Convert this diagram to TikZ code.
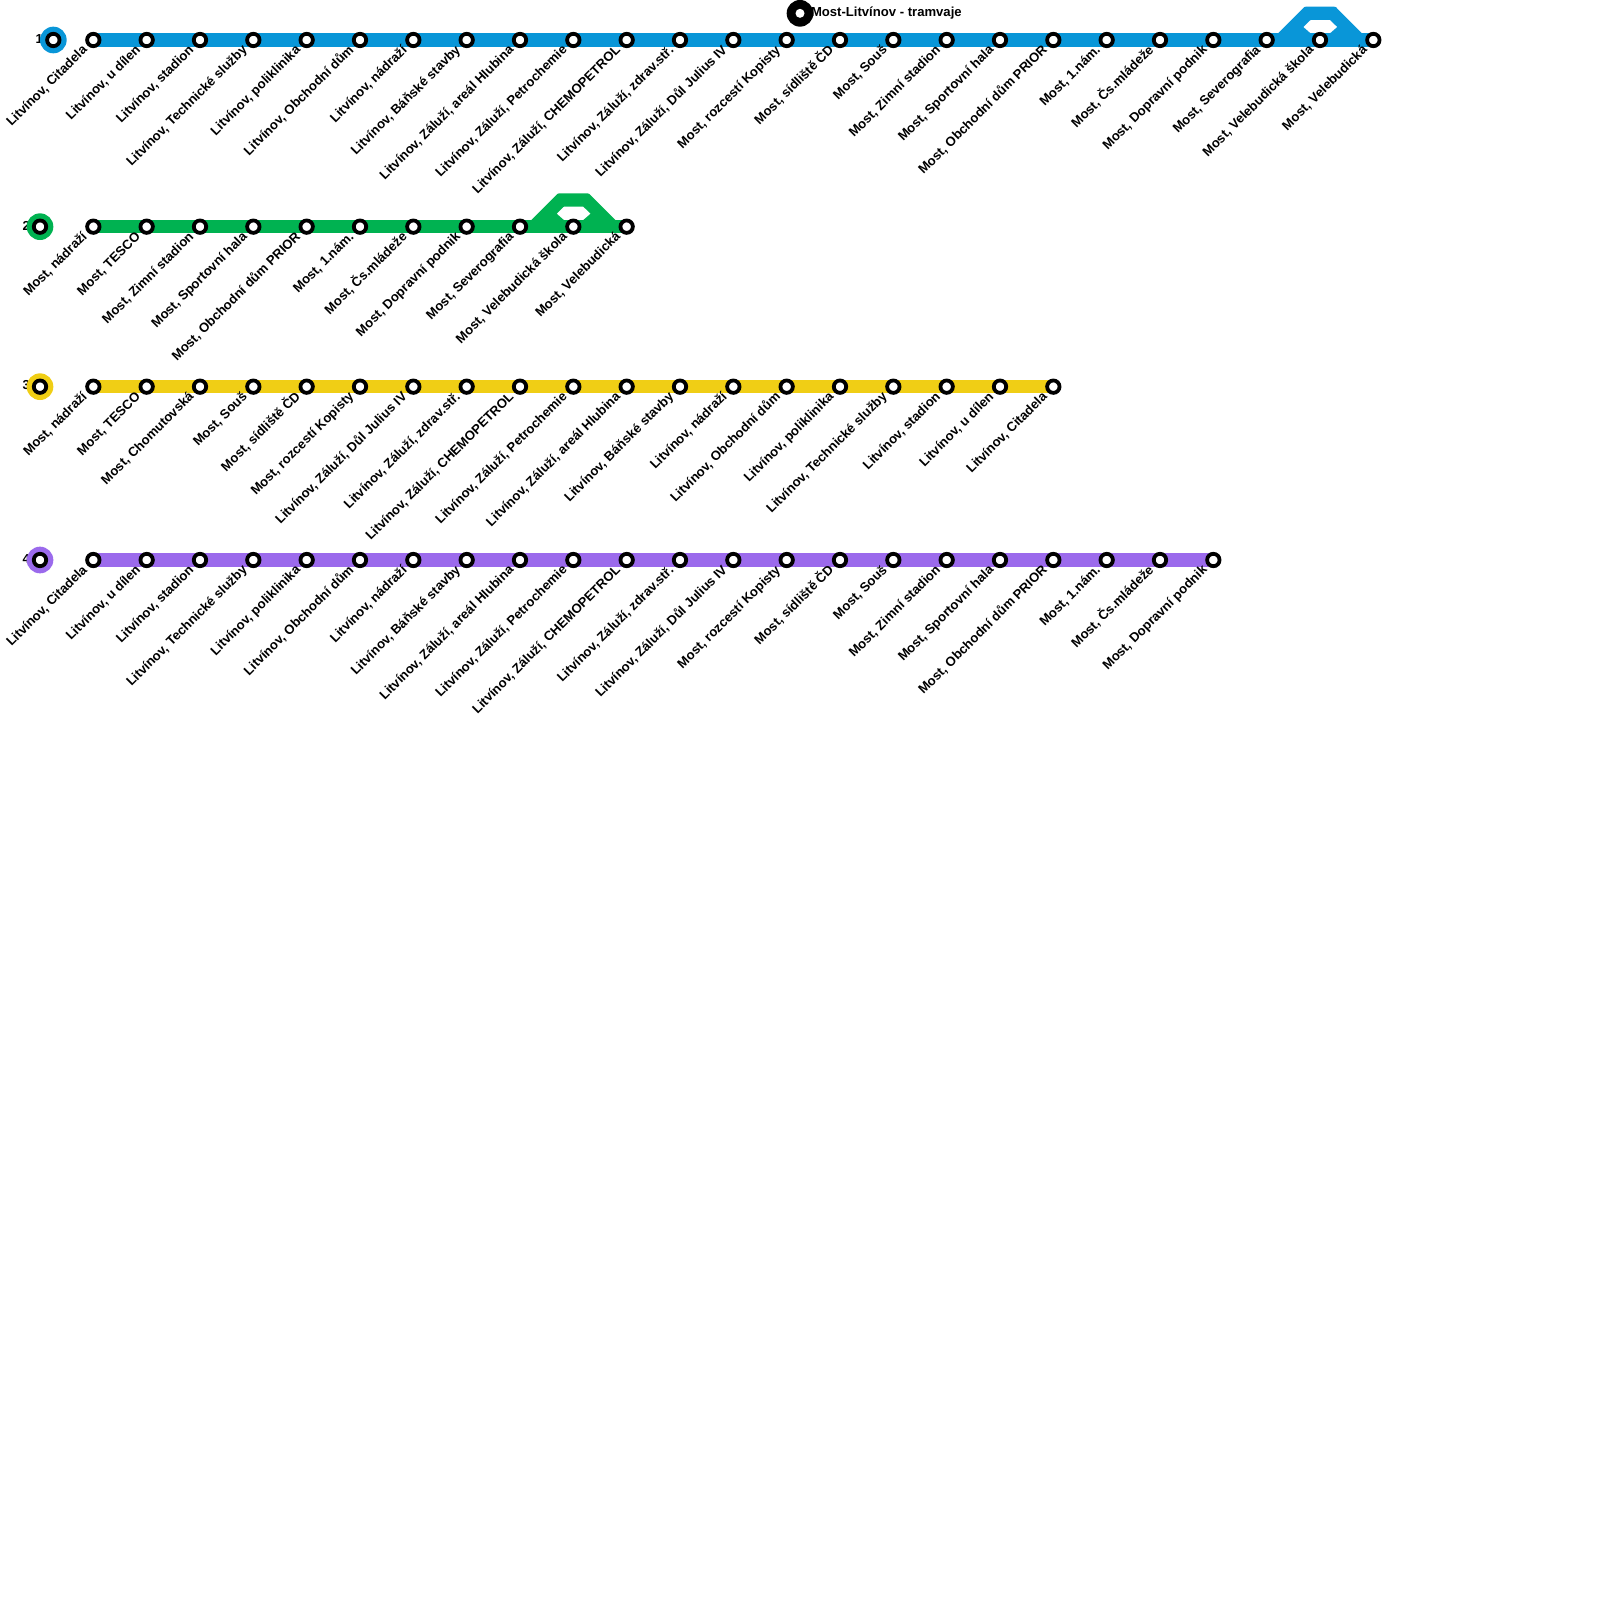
\documentclass[tikz,border=0pt]{standalone}
\usepackage{fontspec}
\setmainfont{Liberation Sans}
\usetikzlibrary{backgrounds}
\definecolor{lblue}{HTML}{0996D8}
\definecolor{lgreen}{HTML}{00B251}
\definecolor{lyellow}{HTML}{F0CE15}
\definecolor{lpurple}{HTML}{9B6AEC}
\tikzset{
  stationdot/.style={circle,draw=black,fill=white,line width=3.8pt,minimum size=12.4pt,inner sep=0pt},
  stationlabel/.style={anchor=base east,rotate=45,inner sep=0pt,font=\fontsize{13.1}{13}\selectfont\bfseries},
  numlabel/.style={anchor=east,inner sep=0pt,font=\fontsize{13}{13}\selectfont\bfseries},
  routeline/.style={line width=13.33pt},
  routedisc/.style={circle,inner sep=0pt,minimum size=26.67pt}
}
\newcommand{\stationrow}[3]{%
  \foreach \lbl [count=\idx from 0] in {#3} {
    \pgfmathsetmacro{\xx}{93.33+53.333*\idx}
    \node[stationdot] (r#1s\idx) at (\xx,#2) {};
    \node[stationlabel] (r#1l\idx) at (\xx-5.5,#2+10.7) {\lbl};
  }%
}
\newcommand{\bypass}[3]{% x centre, y line, colour
  \fill[#3,even odd rule,rounded corners=0pt]
    (#1-42,#2-6.67) -- (#1-17.5,#2-31.2)
    .. controls (#1-16.5,#2-32.7) and (#1-15.5,#2-33.33) .. (#1-14,#2-33.33)
    -- (#1+14,#2-33.33)
    .. controls (#1+15.5,#2-33.33) and (#1+16.5,#2-32.7) .. (#1+17.5,#2-31.2)
    -- (#1+42,#2-6.67) -- cycle
    (#1-16.7,#2-13) -- (#1-9.5,#2-20) -- (#1+10,#2-20) -- (#1+17.3,#2-13)
    -- (#1+10,#2-6.67) -- (#1-9.5,#2-6.67) -- cycle;
}
\begin{document}
\begin{tikzpicture}[x=1pt,y=-1pt]
\useasboundingbox (0,0) rectangle (1600,1600);

\stationrow{1}{40}{{Litvínov, Citadela},{Litvínov, u dílen},{Litvínov, stadion},{Litvínov, Technické služby},{Litvínov, poliklinika},{Litvínov, Obchodní dům},{Litvínov, nádraží},{Litvínov, Báňské stavby},{Litvínov, Záluží, areál Hlubina},{Litvínov, Záluží, Petrochemie},{Litvínov, Záluží, CHEMOPETROL},{Litvínov, Záluží, zdrav.stř.},{Litvínov, Záluží, Důl Julius IV},{Most, rozcestí Kopisty},{Most, sídliště ČD},{Most, Souš},{Most, Zimní stadion},{Most, Sportovní hala},{Most, Obchodní dům PRIOR},{Most, 1.nám.},{Most, Čs.mládeže},{Most, Dopravní podnik},{Most, Severografia},{Most, Velebudická škola},{Most, Velebudická}}
\stationrow{2}{226.67}{{Most, nádraží},{Most, TESCO},{Most, Zimní stadion},{Most, Sportovní hala},{Most, Obchodní dům PRIOR},{Most, 1.nám.},{Most, Čs.mládeže},{Most, Dopravní podnik},{Most, Severografia},{Most, Velebudická škola},{Most, Velebudická}}
\stationrow{3}{386.67}{{Most, nádraží},{Most, TESCO},{Most, Chomutovská},{Most, Souš},{Most, sídliště ČD},{Most, rozcestí Kopisty},{Litvínov, Záluží, Důl Julius IV},{Litvínov, Záluží, zdrav.stř.},{Litvínov, Záluží, CHEMOPETROL},{Litvínov, Záluží, Petrochemie},{Litvínov, Záluží, areál Hlubina},{Litvínov, Báňské stavby},{Litvínov, nádraží},{Litvínov, Obchodní dům},{Litvínov, poliklinika},{Litvínov, Technické služby},{Litvínov, stadion},{Litvínov, u dílen},{Litvínov, Citadela}}
\stationrow{4}{560}{{Litvínov, Citadela},{Litvínov, u dílen},{Litvínov, stadion},{Litvínov, Technické služby},{Litvínov, poliklinika},{Litvínov, Obchodní dům},{Litvínov, nádraží},{Litvínov, Báňské stavby},{Litvínov, Záluží, areál Hlubina},{Litvínov, Záluží, Petrochemie},{Litvínov, Záluží, CHEMOPETROL},{Litvínov, Záluží, zdrav.stř.},{Litvínov, Záluží, Důl Julius IV},{Most, rozcestí Kopisty},{Most, sídliště ČD},{Most, Souš},{Most, Zimní stadion},{Most, Sportovní hala},{Most, Obchodní dům PRIOR},{Most, 1.nám.},{Most, Čs.mládeže},{Most, Dopravní podnik}}

\begin{pgfonlayer}{background}
  \draw[routeline,lblue] (r1s0.center) -- (r1s24.center);
  \draw[routeline,lgreen] (r2s0.center) -- (r2s10.center);
  \draw[routeline,lyellow] (r3s0.center) -- (r3s18.center);
  \draw[routeline,lpurple] (r4s0.center) -- (r4s21.center);
  \bypass{1320}{40}{lblue}
  \bypass{573.33}{226.67}{lgreen}
  \node[numlabel] (n1) at (43,39.5) {1};
  \node[numlabel] (n2) at (30,226) {2};
  \node[numlabel] (n3) at (30,385.5) {3};
  \node[numlabel] (n4) at (30,559) {4};
  \node[routedisc,fill=lblue] (d1) at (53.33,40) {};
  \node[routedisc,fill=lgreen] (d2) at (40,226.67) {};
  \node[routedisc,fill=lyellow] (d3) at (40,386.67) {};
  \node[routedisc,fill=lpurple] (d4) at (40,560) {};
\end{pgfonlayer}
\node[stationdot] (e1) at (53.33,40) {};
\node[stationdot] (e2) at (40,226.67) {};
\node[stationdot] (e3) at (40,386.67) {};
\node[stationdot] (e4) at (40,560) {};

\node[circle,fill=black,minimum size=26.67pt,inner sep=0pt] (tram) at (800,13.33) {};
\node[circle,fill=white,minimum size=9pt,inner sep=0pt] (tramc) at (tram.center) {};
\node[anchor=base west,inner sep=0pt,font=\fontsize{13.1}{13}\selectfont\bfseries] (tramt) at (810.8,17) {Most-Litvínov - tramvaje};
\end{tikzpicture}
\end{document}
